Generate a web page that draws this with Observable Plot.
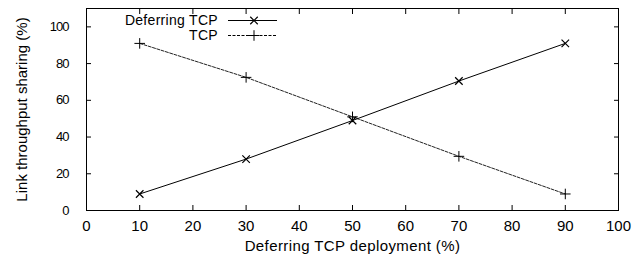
<!DOCTYPE html>
<html>
<head>
<meta charset="utf-8">
<script src="https://cdn.jsdelivr.net/npm/d3@7"></script>
<script src="https://cdn.jsdelivr.net/npm/@observablehq/plot@0.6"></script>
<style>
  html, body { margin: 0; padding: 0; background: #fff; }
  #chart svg { display: block; }
</style>
</head>
<body>
<div id="chart"></div>
<script>
const deployment = [10, 30, 50, 70, 90];
const deferringTCP = [9, 28, 49, 70.5, 91];
const regularTCP = [91, 72.5, 51, 29.5, 9];
const seriesNames = ["Deferring TCP", "TCP"];
const xTicks = [0, 10, 20, 30, 40, 50, 60, 70, 80, 90, 100];
const yTicks = [0, 20, 40, 60, 80, 100];

const rows = [];
deployment.forEach((x, i) => {
  rows.push({series: seriesNames[0], x, y: deferringTCP[i]});
  rows.push({series: seriesNames[1], x, y: regularTCP[i]});
});
const defRows = rows.filter(d => d.series === seriesNames[0]);
const tcpRows = rows.filter(d => d.series === seriesNames[1]);

const font = "Liberation Sans, Arial, Helvetica, sans-serif";

const plot = Plot.plot({
  width: 640,
  height: 258,
  marginLeft: 86,
  marginRight: 22,
  marginTop: 8,
  marginBottom: 48,
  style: {fontFamily: font, fontSize: "15px", color: "#000", background: "#fff"},
  x: {domain: [0, 100]},
  y: {domain: [0, 110]},
  marks: [
    Plot.frame({stroke: "#000", strokeWidth: 1}),
    Plot.axisX(xTicks, {anchor: "bottom", tickSize: -5, tickPadding: 15, label: "Deferring TCP deployment (%)", labelAnchor: "center", labelArrow: "none", labelOffset: 40, fontSize: 15}),
    Plot.axisX(xTicks, {anchor: "top", tickSize: -5, tickFormat: () => "", label: null}),
    Plot.axisY(yTicks, {anchor: "left", tickSize: -5, tickPadding: 23, label: "Link throughput sharing (%)", labelAnchor: "center", labelArrow: "none", labelOffset: 70, fontSize: 15}),
    Plot.axisY(yTicks, {anchor: "right", tickSize: -5, tickFormat: () => "", label: null}),
    Plot.line(tcpRows, {x: "x", y: "y", stroke: "#222", strokeWidth: 1, strokeDasharray: "3,1.5"}),
    Plot.line(defRows, {x: "x", y: "y", stroke: "#000", strokeWidth: 1}),
    Plot.dot(tcpRows, {x: "x", y: "y", symbol: "plus", r: 3.5, stroke: "#000", strokeWidth: 1}),
    Plot.dot(defRows, {x: "x", y: "y", symbol: "times", r: 3.5, stroke: "#000", strokeWidth: 1.2})
  ]
});

const svg = d3.select(plot);
svg.selectAll('g[aria-label="y-axis tick label"] text').attr("font-size", 13).attr("letter-spacing", "-1px");
svg.selectAll('g[aria-label="x-axis label"] text').attr("letter-spacing", "0.4px");

// Legend (top, inside the frame)
const leg = svg.append("g").attr("font-family", font).attr("font-size", 14);
const legendItems = [
  {name: seriesNames[0], dash: null, symbol: d3.symbolTimes},
  {name: seriesNames[1], dash: "3,1.5", symbol: d3.symbolPlus}
];
legendItems.forEach((it, i) => {
  const yy = 20.5 + i * 15;
  leg.append("text").attr("x", 218).attr("y", yy).attr("dy", "0.35em")
    .attr("text-anchor", "end").attr("fill", "#000")
    .attr("letter-spacing", "0.3px").text(it.name);
  leg.append("line").attr("x1", 228).attr("x2", 277).attr("y1", yy).attr("y2", yy)
    .attr("stroke", "#000").attr("stroke-width", 1)
    .attr("stroke-dasharray", it.dash);
  leg.append("path").attr("transform", `translate(254,${yy})`)
    .attr("d", d3.symbol(it.symbol, Math.PI * 3.5 * 3.5)())
    .attr("fill", "none").attr("stroke", "#000").attr("stroke-width", i === 0 ? 1.2 : 1);
});

document.getElementById("chart").appendChild(plot);
</script>
</body>
</html>
